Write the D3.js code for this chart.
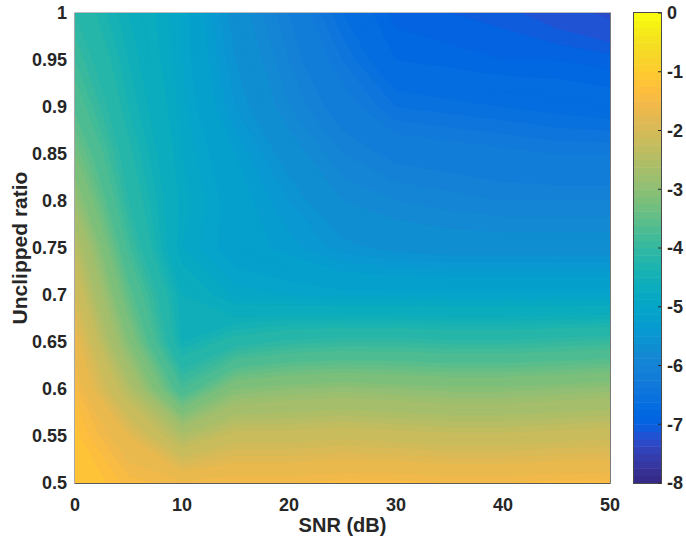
<!DOCTYPE html>
<html>
<head>
<meta charset="utf-8">
<script src="https://cdn.jsdelivr.net/npm/d3@7"></script>
<style>
  body { margin: 0; background: #fff; }
  text { font-family: "Liberation Sans", Arial, sans-serif; font-weight: bold; fill: #262626; }
</style>
</head>
<body>
<svg id="chart" width="686" height="544"></svg>
<script>
// grid axes
const snrValues = [0, 5, 10, 15, 20, 25, 30, 35, 40, 45, 50];
const ratioValues = [0.5, 0.55, 0.6, 0.65, 0.7, 0.75, 0.8, 0.85, 0.9, 0.95, 1];

// one row per ratio (bottom to top), one value per SNR
const row050 = [-1.1, -1.45, -1.55, -1.5, -1.5, -1.45, -1.45, -1.5, -1.5, -1.45, -1.45];
const row055 = [-1.25, -1.8, -2.55, -2.2, -2.2, -2.15, -2.2, -2.25, -2.25, -2.2, -2.15];
const row060 = [-1.45, -2.5, -3.8, -3.1, -3.0, -2.95, -3.0, -3.05, -3.05, -3.0, -2.95];
const row065 = [-1.7, -3.1, -4.5, -4.2, -4.05, -4.0, -4.0, -4.05, -4.05, -4.0, -3.95];
const row070 = [-2.05, -3.5, -4.6, -4.95, -5.0, -5.05, -5.05, -5.05, -5.05, -5.05, -5.05];
const row075 = [-2.4, -3.85, -4.9, -5.2, -5.35, -5.55, -5.65, -5.7, -5.7, -5.7, -5.7];
const row080 = [-2.9, -4.1, -4.85, -5.2, -5.5, -5.8, -5.9, -5.95, -6.0, -6.0, -6.0];
const row085 = [-3.3, -4.25, -4.9, -5.3, -5.7, -6.0, -6.15, -6.2, -6.25, -6.3, -6.3];
const row090 = [-3.65, -4.4, -4.95, -5.5, -5.9, -6.2, -6.5, -6.55, -6.6, -6.65, -6.7];
const row095 = [-3.9, -4.5, -5.0, -5.6, -6.0, -6.4, -6.8, -6.85, -6.9, -6.9, -6.95];
const row100 = [-4.1, -4.6, -5.0, -5.7, -6.1, -6.6, -6.95, -7.0, -7.05, -7.2, -7.35];
const gridRows = [row050, row055, row060, row065, row070, row075, row080, row085, row090, row095, row100];

const xTicks = [0, 10, 20, 30, 40, 50];
const yTicks = [0.5, 0.55, 0.6, 0.65, 0.7, 0.75, 0.8, 0.85, 0.9, 0.95, 1];
const cTicks = [0, -1, -2, -3, -4, -5, -6, -7, -8];

// matlab parula, 64 entries
const parula = [
  [0.2081,0.1663,0.5292],[0.2116,0.1898,0.5777],[0.2123,0.2138,0.6270],[0.2081,0.2386,0.6771],
  [0.1959,0.2645,0.7279],[0.1707,0.2919,0.7792],[0.1253,0.3242,0.8303],[0.0591,0.3598,0.8683],
  [0.0117,0.3875,0.8820],[0.0060,0.4086,0.8828],[0.0165,0.4266,0.8786],[0.0329,0.4430,0.8720],
  [0.0498,0.4586,0.8641],[0.0629,0.4737,0.8554],[0.0723,0.4887,0.8467],[0.0779,0.5040,0.8384],
  [0.0793,0.5200,0.8312],[0.0749,0.5375,0.8263],[0.0641,0.5570,0.8240],[0.0488,0.5772,0.8228],
  [0.0343,0.5966,0.8199],[0.0265,0.6137,0.8135],[0.0239,0.6287,0.8038],[0.0231,0.6418,0.7913],
  [0.0228,0.6535,0.7768],[0.0267,0.6642,0.7607],[0.0384,0.6743,0.7436],[0.0590,0.6838,0.7254],
  [0.0843,0.6928,0.7062],[0.1133,0.7015,0.6859],[0.1453,0.7098,0.6646],[0.1801,0.7177,0.6424],
  [0.2178,0.7250,0.6193],[0.2586,0.7317,0.5954],[0.3022,0.7376,0.5712],[0.3482,0.7424,0.5473],
  [0.3953,0.7459,0.5244],[0.4420,0.7481,0.5033],[0.4871,0.7491,0.4840],[0.5300,0.7491,0.4661],
  [0.5709,0.7485,0.4494],[0.6099,0.7473,0.4337],[0.6473,0.7456,0.4188],[0.6834,0.7435,0.4044],
  [0.7184,0.7411,0.3905],[0.7525,0.7384,0.3768],[0.7858,0.7356,0.3633],[0.8185,0.7327,0.3498],
  [0.8507,0.7299,0.3360],[0.8824,0.7274,0.3217],[0.9139,0.7258,0.3063],[0.9450,0.7261,0.2886],
  [0.9739,0.7314,0.2666],[0.9938,0.7455,0.2403],[0.9990,0.7653,0.2164],[0.9955,0.7861,0.1967],
  [0.9880,0.8066,0.1794],[0.9789,0.8271,0.1633],[0.9697,0.8481,0.1475],[0.9626,0.8705,0.1309],
  [0.9589,0.8949,0.1132],[0.9598,0.9218,0.0948],[0.9661,0.9514,0.0755],[0.9763,0.9831,0.0538]
].map(c => d3.rgb(c[0] * 255, c[1] * 255, c[2] * 255).formatHex());

const plotLeft = 75, plotRight = 610, plotTop = 13, plotBottom = 483;
const cbLeft = 634, cbRight = 661;

const svg = d3.select('#chart');

const x = d3.scaleLinear().domain([0, 50]).range([plotLeft, plotRight]);
const y = d3.scaleLinear().domain([0.5, 1]).range([plotBottom, plotTop]);
const cScale = d3.scaleLinear().domain([-8, 0]).range([plotBottom, plotTop]);
const cIndex = d3.scaleQuantize().domain([-8, 0]).range(d3.range(64));

// contour fill, levels every 0.1
const values = [].concat(...gridRows);
const levels = d3.range(-80, 1).map(i => i / 10);
const contours = d3.contours().size([snrValues.length, ratioValues.length]).thresholds(levels)(values);

const dS = snrValues[1] - snrValues[0], dR = ratioValues[1] - ratioValues[0];
const proj = d3.geoTransform({
  point: function (cx, cy) {
    this.stream.point(x(snrValues[0] + (cx - 0.5) * dS), y(ratioValues[0] + (cy - 0.5) * dR));
  }
});
const path = d3.geoPath(proj);

svg.append('clipPath').attr('id', 'plotClip')
  .append('rect').attr('x', plotLeft).attr('y', plotTop)
  .attr('width', plotRight - plotLeft).attr('height', plotBottom - plotTop);

const bandColor = d => parula[cIndex(Math.min(d.value + 0.05, -0.001))];

svg.append('g').attr('clip-path', 'url(#plotClip)')
  .selectAll('path').data(contours).enter().append('path')
  .attr('d', path)
  .attr('fill', bandColor)
  .attr('stroke', bandColor)
  .attr('stroke-width', 0.4);

// axes box (layer bottom look)
const box = svg.append('g');
box.append('line').attr('x1', plotLeft).attr('x2', plotRight + 0.5).attr('y1', plotTop - 0.5).attr('y2', plotTop - 0.5).attr('stroke', '#bdbdbd');
box.append('line').attr('x1', plotLeft - 0.5).attr('x2', plotLeft - 0.5).attr('y1', plotTop - 0.5).attr('y2', plotBottom).attr('stroke', '#a8a8a8');
box.append('line').attr('x1', plotLeft - 0.5).attr('x2', plotRight + 0.5).attr('y1', plotBottom + 0.5).attr('y2', plotBottom + 0.5).attr('stroke', '#5c5c5c');
box.append('line').attr('x1', plotRight + 0.5).attr('x2', plotRight + 0.5).attr('y1', plotTop - 0.5).attr('y2', plotBottom + 0.5).attr('stroke', '#7a7a7a');

// tick labels
svg.append('g').selectAll('text').data(xTicks).enter().append('text')
  .attr('x', d => x(d)).attr('y', 511)
  .attr('text-anchor', 'middle').attr('font-size', 18)
  .text(d => d);

svg.append('g').selectAll('text').data(yTicks).enter().append('text')
  .attr('x', 67).attr('y', d => y(d)).attr('dy', '0.36em')
  .attr('text-anchor', 'end').attr('font-size', 18)
  .text(d => d);

svg.append('text')
  .attr('x', (plotLeft + plotRight) / 2).attr('y', 532)
  .attr('text-anchor', 'middle').attr('font-size', 20)
  .text('SNR (dB)');

svg.append('text')
  .attr('transform', `translate(27,${(plotTop + plotBottom) / 2}) rotate(-90)`)
  .attr('text-anchor', 'middle').attr('font-size', 21)
  .text('Unclipped ratio');

// colorbar
const cb = svg.append('g');
const step = 8 / 64;
cb.selectAll('rect').data(d3.range(64)).enter().append('rect')
  .attr('x', cbLeft).attr('width', cbRight - cbLeft)
  .attr('y', i => cScale(-8 + (i + 1) * step))
  .attr('height', i => cScale(-8 + i * step) - cScale(-8 + (i + 1) * step) + 0.5)
  .attr('fill', i => parula[i]);

cb.append('rect').attr('x', cbLeft - 0.5).attr('y', plotTop - 0.5)
  .attr('width', cbRight - cbLeft + 1).attr('height', plotBottom - plotTop + 1)
  .attr('fill', 'none').attr('stroke', '#4a4a4a').attr('stroke-width', 1);

cb.selectAll('line.tk').data(cTicks).enter().append('line')
  .attr('class', 'tk')
  .attr('x1', cbRight - 3).attr('x2', cbRight)
  .attr('y1', d => cScale(d)).attr('y2', d => cScale(d))
  .attr('stroke', '#262626');

cb.selectAll('text').data(cTicks).enter().append('text')
  .attr('x', cbRight + 6).attr('y', d => cScale(d)).attr('dy', '0.36em')
  .attr('font-size', 18)
  .text(d => d);
</script>
</body>
</html>
